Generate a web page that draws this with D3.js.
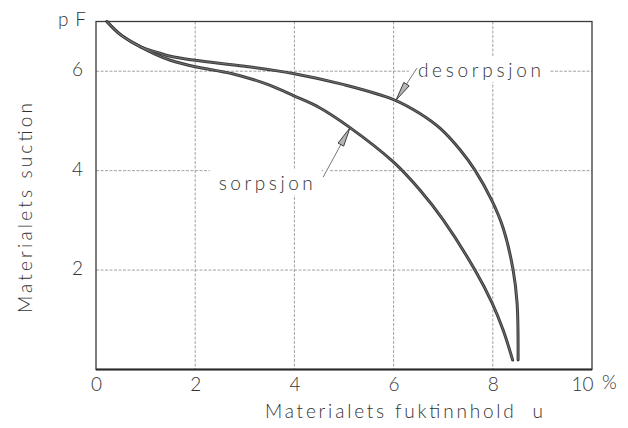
<!DOCTYPE html>
<html>
<head>
<meta charset="utf-8">
<script src="https://cdn.jsdelivr.net/npm/d3@7"></script>
<style>
  body { margin: 0; background: #fff; }
  text { font-family: Lato, "Open Sans", "Liberation Sans", sans-serif; font-weight: 300; fill: #333; }
</style>
</head>
<body>
<svg id="chart" width="628" height="428"></svg>
<script>
'use strict';

// tick values
const xTicks = [0, 2, 4, 6, 8, 10];
const yTicks = [2, 4, 6];

// desorption curve: moisture content u (%) -> suction (pF)
const desorpU  = [0.22, 0.5, 0.9, 1.2, 1.5, 2.0, 3.0, 4.0, 5.0, 6.0, 6.53, 6.94, 7.34, 7.64, 7.98, 8.21, 8.41, 8.49, 8.51];
const desorpPF = [7.0, 6.73, 6.49, 6.39, 6.30, 6.22, 6.10, 5.95, 5.73, 5.43, 5.15, 4.85, 4.42, 4.01, 3.40, 2.84, 2.0, 1.33, 0.19];

// sorption curve
const sorpU  = [0.22, 0.5, 0.9, 1.2, 1.5, 2.0, 2.75, 3.5, 4.0, 4.5, 5.1, 6.0, 6.53, 7.0, 7.64, 7.98, 8.21, 8.40];
const sorpPF = [7.0, 6.73, 6.49, 6.34, 6.22, 6.09, 5.95, 5.72, 5.50, 5.27, 4.88, 4.17, 3.61, 3.01, 2.0, 1.35, 0.79, 0.19];

// curve labels: arrow tip on the curve, leader end and text anchor (all in u / pF)
const annotations = [
  { text: 'desorpsjon', tipU: 6.05, tipPF: 5.42, endU: 6.47, endPF: 6.06, txtU: 6.49, txtPF: 5.88, anchor: 'start', len: 123 },
  { text: 'sorpsjon',   tipU: 5.12, tipPF: 4.86, endU: 4.58, endPF: 3.87, txtU: 4.37, txtPF: 3.61, anchor: 'end',   len: 94 }
];

const width = 628, height = 428;
const margin = { top: 21.5, right: 36, bottom: 58.5, left: 96 };

const svg = d3.select('#chart');

const x = d3.scaleLinear().domain([0, 10]).range([margin.left, width - margin.right]);
const y = d3.scaleLinear().domain([0, 7]).range([height - margin.bottom, margin.top]);

// grid lines (dashed, light)
const grid = svg.append('g')
    .attr('stroke', '#8a8a8a')
    .attr('stroke-width', 0.8)
    .attr('stroke-dasharray', '3 1.5');

grid.selectAll('line.vx')
    .data(xTicks.filter(d => d > 0 && d < 10))
    .enter().append('line')
    .attr('class', 'vx')
    .attr('x1', d => x(d)).attr('x2', d => x(d))
    .attr('y1', y(7)).attr('y2', y(0));

grid.selectAll('line.hy')
    .data(yTicks)
    .enter().append('line')
    .attr('class', 'hy')
    .attr('x1', x(0)).attr('x2', x(10))
    .attr('y1', d => y(d)).attr('y2', d => y(d));

// layer for white patches that break the grid behind labels
const patches = svg.append('g');

// frame
svg.append('rect')
    .attr('x', x(0)).attr('y', y(7))
    .attr('width', x(10) - x(0)).attr('height', y(0) - y(7))
    .attr('fill', 'none')
    .attr('stroke', '#3a3a3a')
    .attr('stroke-width', 1.3);

svg.append('line')
    .attr('x1', x(0)).attr('x2', x(10))
    .attr('y1', y(0)).attr('y2', y(0))
    .attr('stroke', '#2a2a2a')
    .attr('stroke-width', 2);

// x axis labels
const xAxis = d3.axisBottom(x)
    .tickValues(xTicks)
    .tickSize(0)
    .tickPadding(8)
    .tickFormat(d3.format('d'));

const gx = svg.append('g')
    .attr('transform', `translate(0,${y(0)})`)
    .call(xAxis);
gx.select('.domain').remove();
gx.selectAll('text')
    .attr('font-size', 19)
    .attr('fill', '#333');
gx.selectAll('.tick')
    .filter(d => d === 10)
    .select('text')
    .attr('text-anchor', 'end')
    .attr('x', 1);

svg.append('text')
    .attr('x', x(10) + 10)
    .attr('y', y(0) + 19)
    .attr('font-size', 19)
    .text('%');

// y axis labels
const yAxis = d3.axisLeft(y)
    .tickValues(yTicks)
    .tickSize(0)
    .tickPadding(13)
    .tickFormat(d3.format('d'));

const gy = svg.append('g')
    .attr('transform', `translate(${x(0)},0)`)
    .call(yAxis);
gy.select('.domain').remove();
gy.selectAll('text')
    .attr('font-size', 19)
    .attr('fill', '#333')
    .attr('dy', '0.25em');

svg.append('text')
    .attr('x', x(0) - 38)
    .attr('y', y(7) + 4)
    .attr('font-size', 19)
    .attr('textLength', 28)
    .attr('lengthAdjust', 'spacing')
    .text('pF');

// axis titles
svg.append('text')
    .attr('x', 265)
    .attr('y', 418)
    .attr('font-size', 19)
    .attr('textLength', 278)
    .attr('lengthAdjust', 'spacing')
    .style('white-space', 'pre')
    .text('Materialets fuktinnhold  u');

svg.append('text')
    .attr('transform', 'translate(32,313) rotate(-90)')
    .attr('font-size', 19)
    .attr('textLength', 210)
    .attr('lengthAdjust', 'spacing')
    .text('Materialets suction');

// curves
const line = d3.line()
    .x(d => x(d[0]))
    .y(d => y(d[1]))
    .curve(d3.curveCatmullRom.alpha(0.5));

const curves = [
    d3.zip(desorpU, desorpPF),
    d3.zip(sorpU, sorpPF)
];

svg.selectAll('path.curve-outer')
    .data(curves)
    .enter().append('path')
    .attr('class', 'curve-outer')
    .attr('d', line)
    .attr('fill', 'none')
    .attr('stroke', '#3c3c3c')
    .attr('stroke-width', 3)
    .attr('stroke-linecap', 'round');

svg.selectAll('path.curve-inner')
    .data(curves)
    .enter().append('path')
    .attr('class', 'curve-inner')
    .attr('d', line)
    .attr('fill', 'none')
    .attr('stroke', '#808080')
    .attr('stroke-width', 0.8);

// annotations: label, leader line, arrowhead
annotations.forEach(a => {
    const t = svg.append('text')
        .attr('x', x(a.txtU))
        .attr('y', y(a.txtPF))
        .attr('font-size', 19)
        .attr('text-anchor', a.anchor)
        .attr('textLength', a.len)
        .attr('lengthAdjust', 'spacing')
        .text(a.text);

    const bb = t.node().getBBox();
    patches.append('rect')
        .attr('x', bb.x - 9).attr('y', bb.y - 1)
        .attr('width', bb.width + 18).attr('height', bb.height + 2)
        .attr('fill', '#fff');

    const tx = x(a.tipU), ty = y(a.tipPF);
    const ex = x(a.endU), ey = y(a.endPF);
    const dx = ex - tx, dy = ey - ty;
    const L = Math.hypot(dx, dy);
    const ux = dx / L, uy = dy / L;
    const headLen = 19, headW = 3.2;
    const bx = tx + ux * headLen, by = ty + uy * headLen;

    // white halo so the grid breaks where the leader crosses it
    patches.append('line')
        .attr('x1', tx).attr('y1', ty)
        .attr('x2', ex).attr('y2', ey)
        .attr('stroke', '#fff')
        .attr('stroke-width', 6);

    svg.append('line')
        .attr('x1', bx).attr('y1', by)
        .attr('x2', ex).attr('y2', ey)
        .attr('stroke', '#555')
        .attr('stroke-width', 0.8);

    svg.append('polygon')
        .attr('points', [
            [tx, ty],
            [bx - uy * headW, by + ux * headW],
            [bx + uy * headW, by - ux * headW]
        ].map(p => p.join(',')).join(' '))
        .attr('fill', '#b5b5b5')
        .attr('stroke', '#3c3c3c')
        .attr('stroke-width', 1);
});
</script>
</body>
</html>
